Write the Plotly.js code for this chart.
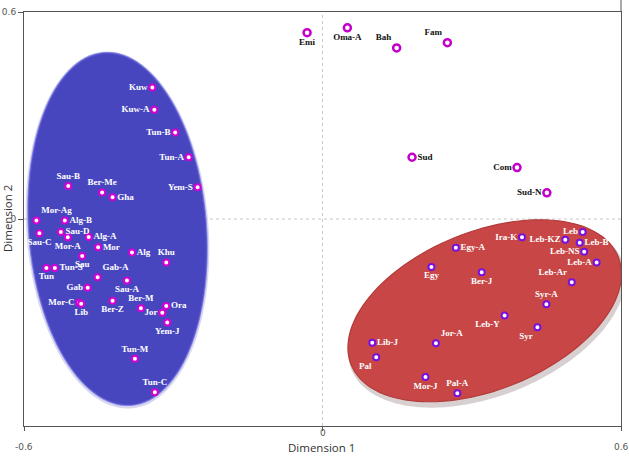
<!DOCTYPE html>
<html>
<head>
<meta charset="utf-8">
<script src="https://cdn.plot.ly/plotly-3.0.1.min.js"></script>
<style>html,body{margin:0;padding:0;background:#fff;}#chart{width:629px;height:456px;}</style>
</head>
<body>
<div id="chart"></div>
<script>
// ---- data ----
var leftNames = ["Kuw","Kuw-A","Tun-B","Tun-A","Yem-S","Sau-B","Ber-Me","Gha","Mor-Ag","Alg-B","Sau-C","Sau-D","Mor-A","Alg-A","Mor","Sau","Alg","Khu","Tun","Tun-S","Gab-A","Gab","Sau-A","Mor-C","Lib","Ber-Z","Ber-M","Ora","Jor","Yem-J","Tun-M","Tun-C"];
var leftX = [-0.342,-0.338,-0.296,-0.269,-0.251,-0.511,-0.443,-0.422,-0.575,-0.518,-0.569,-0.526,-0.512,-0.470,-0.451,-0.483,-0.383,-0.314,-0.555,-0.538,-0.452,-0.472,-0.393,-0.489,-0.485,-0.422,-0.365,-0.314,-0.322,-0.312,-0.377,-0.337];
var leftY = [0.381,0.317,0.251,0.179,0.092,0.096,0.077,0.063,-0.004,-0.004,-0.041,-0.038,-0.053,-0.052,-0.082,-0.107,-0.097,-0.126,-0.142,-0.142,-0.169,-0.199,-0.178,-0.243,-0.246,-0.237,-0.259,-0.252,-0.272,-0.300,-0.405,-0.502];

var outerNames = ["Emi","Oma-A","Bah","Fam","Sud","Com","Sud-N"];
var outerX = [-0.031,0.050,0.149,0.251,0.180,0.391,0.451];
var outerY = [0.540,0.554,0.496,0.511,0.179,0.149,0.076];

var rightNames = ["Leb","Leb-KZ","Leb-B","Leb-NS","Leb-A","Leb-Ar","Ira-K","Egy-A","Egy","Ber-J","Syr-A","Leb-Y","Syr","Jor-A","Lib-J","Pal","Mor-J","Pal-A"];
var rightX = [0.523,0.488,0.517,0.526,0.551,0.501,0.401,0.268,0.219,0.320,0.450,0.366,0.432,0.228,0.100,0.108,0.207,0.271];
var rightY = [-0.038,-0.060,-0.069,-0.095,-0.126,-0.183,-0.053,-0.083,-0.139,-0.154,-0.247,-0.280,-0.314,-0.360,-0.359,-0.401,-0.458,-0.505];

var xTicks = [-0.6, 0, 0.6];
var xTickText = ["-0.6", "0", "0.6"];
var yTicks = [0, 0.6];

// ---- label placement (styling) ----
var leftPos = ["middle left","middle left","middle left","middle left","middle left","top center","top center","middle right","top right","middle right","bottom center","middle right","bottom center","middle right","middle right","bottom center","middle right","top center","bottom center","middle right","top right","middle left","bottom center","middle left","bottom center","bottom center","top center","middle right","middle left","bottom center","top center","top center"];
var outerPos = ["bottom center","bottom center","top left","top left","middle right","middle left","middle left"];
var rightPos = ["middle left","middle left","middle right","middle left","middle left","top left","middle left","middle right","bottom center","bottom center","top center","bottom left","bottom left","top right","middle right","bottom left","bottom center","top center"];
var xTickShift = [-21, -7, -21];

// ---- cluster ellipses (centre in data units, radii in screen px, angle in degrees) ----
var pxPerX = 597 / 1.2, pxPerY = 414 / 1.2;
function ellipsePath(cx, cy, a, b, angDeg, dxPx, dyPx, grow) {
  var th = angDeg * Math.PI / 180, p = "";
  for (var i = 0; i <= 120; i++) {
    var t = 2 * Math.PI * i / 120;
    var ex = (a + grow) * Math.cos(t), ey = (b + grow) * Math.sin(t);
    var px = ex * Math.cos(th) - ey * Math.sin(th) + dxPx;
    var py = ex * Math.sin(th) + ey * Math.cos(th) - dyPx;
    var x = cx + px / pxPerX, y = cy + py / pxPerY;
    p += (i === 0 ? "M" : "L") + x.toFixed(4) + "," + y.toFixed(4);
  }
  return p + "Z";
}
var blueE = {cx: -0.412, cy: -0.029, a: 176, b: 88, ang: 94.4};
var redE = {cx: 0.326, cy: -0.266, a: 144, b: 79, ang: 22};

var shapes = [
  {type:"line", xref:"x", yref:"y", x0:0, x1:0, y0:-0.6, y1:0.6, line:{color:"#c8c8c8", width:1, dash:"dot"}, layer:"below"},
  {type:"line", xref:"x", yref:"y", x0:-0.6, x1:0.6, y0:0, y1:0, line:{color:"#c8c8c8", width:1, dash:"dot"}, layer:"below"},
  // blue soft halo + body
  {type:"path", path: ellipsePath(blueE.cx, blueE.cy, blueE.a, blueE.b, blueE.ang, 0, 1, 3), fillcolor:"rgba(90,90,200,0.25)", line:{width:0}, layer:"below"},
  {type:"path", path: ellipsePath(blueE.cx, blueE.cy, blueE.a, blueE.b, blueE.ang, 0, 0, 1.5), fillcolor:"rgba(75,73,205,0.6)", line:{width:0}, layer:"below"},
  {type:"path", path: ellipsePath(blueE.cx, blueE.cy, blueE.a, blueE.b, blueE.ang, 0, 0, 0), fillcolor:"#4846bf", line:{color:"#514fd2", width:1}, layer:"below"},
  // red shadow + body
  {type:"path", path: ellipsePath(redE.cx, redE.cy, redE.a, redE.b, redE.ang, 2, 4, 2), fillcolor:"rgba(60,20,20,0.2)", line:{width:0}, layer:"below"},
  {type:"path", path: ellipsePath(redE.cx, redE.cy, redE.a, redE.b, redE.ang, 0, 0, 0), fillcolor:"#c84646", line:{color:"#b33a3a", width:1.2}, layer:"below"},
  // right frame line runs a little above the plot top
  {type:"line", xref:"paper", yref:"paper", x0:1, x1:1, y0:1, y1:1.029, line:{color:"#555555", width:1}}
];

var labelFont = {family:"Liberation Serif, Times New Roman, serif", size:9, weight:"bold"};

var traces = [
  {type:"scatter", mode:"markers+text", x:leftX, y:leftY, text:leftNames, textposition:leftPos,
   marker:{symbol:"circle", size:6, color:"#ffffff", line:{color:"#d400d4", width:2}},
   textfont:Object.assign({color:"#ffffff"}, labelFont), cliponaxis:false, hoverinfo:"text"},
  {type:"scatter", mode:"markers+text", x:outerX, y:outerY, text:outerNames, textposition:outerPos,
   marker:{symbol:"circle", size:7, color:"#ffffff", line:{color:"#c400c8", width:2.5}},
   textfont:Object.assign({color:"#111111"}, labelFont), cliponaxis:false, hoverinfo:"text"},
  {type:"scatter", mode:"markers+text", x:rightX, y:rightY, text:rightNames, textposition:rightPos,
   marker:{symbol:"circle", size:6, color:"#ffffff", line:{color:"#7a10e0", width:2}},
   textfont:Object.assign({color:"#ffffff"}, labelFont), cliponaxis:false, hoverinfo:"text"}
];

var annotations = xTicks.map(function (v, i) {
  return {text:xTickText[i], xref:"x", yref:"paper", x:v, y:0, yanchor:"middle", yshift:xTickShift[i], showarrow:false,
          borderpad:0, font:{family:"DejaVu Sans, sans-serif", size:9, color:"#555555"}};
});
annotations.push(
  {text:"Dimension 1", xref:"paper", yref:"paper", x:0.4975, y:0, yanchor:"bottom", yshift:-30, showarrow:false,
   borderpad:0, font:{family:"Open Sans, sans-serif", size:11.5, color:"#333333"}},
  {text:"Dimension 2", xref:"paper", yref:"paper", x:0, y:0.5, xanchor:"center", xshift:-17, textangle:-90, showarrow:false,
   font:{family:"Open Sans, sans-serif", size:11.5, color:"#333333"}}
);

var layout = {
  width:629, height:456,
  margin:{l:24, r:8, t:12, b:30},
  paper_bgcolor:"#ffffff", plot_bgcolor:"#ffffff",
  showlegend:false,
  xaxis:{range:[-0.6,0.6], tickvals:xTicks, showticklabels:false, showgrid:false, zeroline:false,
         showline:true, mirror:true, linecolor:"#555555", linewidth:1, ticks:"outside", ticklen:4, tickcolor:"#555555"},
  yaxis:{range:[-0.6,0.6], tickvals:yTicks, ticktext:yTicks.map(String), showgrid:false, zeroline:false,
         showline:true, mirror:true, linecolor:"#555555", linewidth:1, ticks:"outside", ticklen:5, tickcolor:"#555555",
         tickfont:{family:"DejaVu Sans, sans-serif", size:9, color:"#555555"}},
  shapes:shapes,
  annotations:annotations
};

Plotly.newPlot("chart", traces, layout, {displayModeBar:false, staticPlot:true});
</script>
</body>
</html>
